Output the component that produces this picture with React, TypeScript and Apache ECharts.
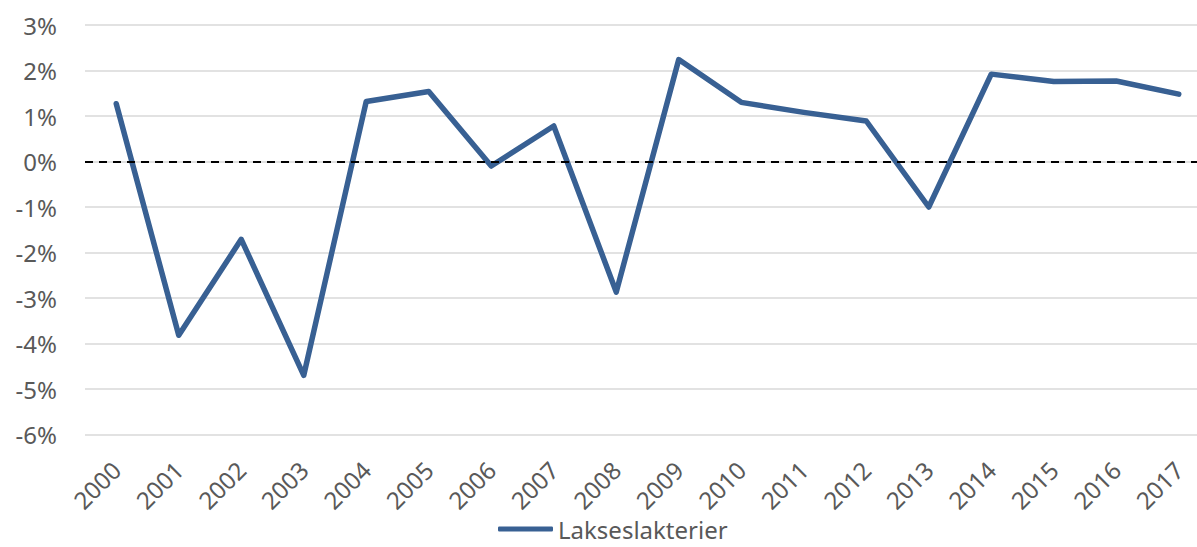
import React, { useEffect, useRef } from "react";
import * as echarts from "echarts";

const years = ["2000","2001","2002","2003","2004","2005","2006","2007","2008","2009","2010","2011","2012","2013","2014","2015","2016","2017"];
const lakseslakterier = [1.27, -3.82, -1.71, -4.70, 1.32, 1.54, -0.10, 0.78, -2.87, 2.24, 1.30, 1.08, 0.89, -1.00, 1.92, 1.76, 1.77, 1.48];
const seriesName = "Lakseslakterier";
const yMin = -6;
const yMax = 3;
const yStep = 1;

export default function App() {
  const ref = useRef<HTMLDivElement>(null);
  useEffect(() => {
    if (!ref.current) return;
    const chart = echarts.init(ref.current, undefined, { renderer: "svg" });
    const font = "'Noto Sans', sans-serif";
    chart.setOption({
      animation: false,
      grid: { left: 85, right: 0, top: 25, bottom: 112.5, containLabel: false },
      legend: {
        data: [{ name: seriesName, icon: "roundRect" }],
        left: 493,
        top: 511,
        itemWidth: 55,
        itemHeight: 5,
        textStyle: { color: "#595959", fontSize: 24, fontFamily: font, lineHeight: 26, padding: [0, 0, 0, 0] },
      },
      xAxis: {
        type: "category",
        data: years,
        boundaryGap: true,
        axisLine: { show: false },
        axisTick: { show: false },
        axisLabel: { rotate: 45, margin: 31, color: "#595959", fontSize: 24, fontFamily: font, interval: 0 },
        splitLine: { show: false },
      },
      yAxis: {
        type: "value",
        min: yMin,
        max: yMax,
        interval: yStep,
        axisLine: { show: false },
        axisTick: { show: false },
        axisLabel: { formatter: (v: number) => `${v}%`, margin: 28, color: "#595959", fontSize: 24, fontFamily: font },
        splitLine: { lineStyle: { color: "#d9d9d9", width: 1.5 } },
      },
      series: [
        {
          name: seriesName,
          type: "line",
          data: lakseslakterier,
          symbol: "none",
          lineStyle: { color: "#386093", width: 5.5, cap: "round", join: "round" },
          itemStyle: { color: "#386093" },
          markLine: {
            silent: true,
            symbol: "none",
            label: { show: false },
            lineStyle: { color: "#000", type: [8, 6], width: 2 },
            data: [{ yAxis: 0 }],
          },
        },
      ],
    });
    return () => chart.dispose();
  }, []);
  return (
    <div style={{ position: "absolute", left: 0, top: 0, width: 1197, height: 547, overflow: "hidden", background: "#fff" }}>
      <div ref={ref} style={{ width: 1210, height: 547 }} />
    </div>
  );
}
